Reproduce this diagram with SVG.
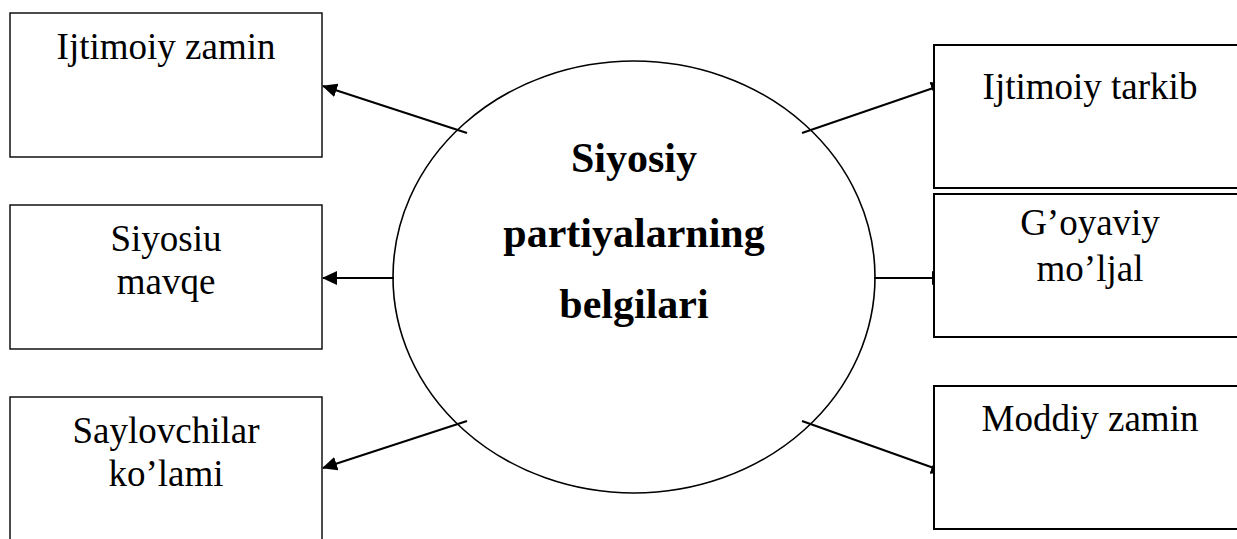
<svg xmlns="http://www.w3.org/2000/svg" width="1237" height="539" viewBox="0 0 1237 539">
<style>
  .box { fill: #ffffff; stroke: #000000; }
  .lb { stroke-width: 1.4; }
  .rb { stroke-width: 2; }
  .t { font-family: "Liberation Serif", "Times New Roman", serif; font-size: 37px; fill: #000000; text-anchor: middle; }
  .c { font-family: "Liberation Serif", "Times New Roman", serif; font-size: 42px; font-weight: bold; fill: #000000; text-anchor: middle; }
  .conn { stroke: #000000; stroke-width: 2; fill: none; marker-end: url(#arr); }
</style>
<defs>
  <marker id="arr" viewBox="0 0 15 14" markerWidth="15" markerHeight="14" refX="14" refY="7" orient="auto" markerUnits="userSpaceOnUse">
    <path d="M0,0 L15,7 L0,14 z" fill="#000000"/>
  </marker>
</defs>
<rect width="1237" height="539" fill="#ffffff"/>
<g id="center">
  <ellipse cx="634" cy="277" rx="241" ry="216" fill="#ffffff" stroke="#000000" stroke-width="1.6"/>
  <text class="c" x="634" y="172">Siyosiy</text>
  <text class="c" x="634" y="247">partiyalarning</text>
  <text class="c" x="634" y="318">belgilari</text>
</g>
<g id="connectors">
  <line class="conn" x1="467" y1="133" x2="323" y2="86"/>
  <line class="conn" x1="394" y1="278" x2="323" y2="278"/>
  <line class="conn" x1="467" y1="421" x2="323" y2="468"/>
  <line class="conn" x1="802" y1="133" x2="945" y2="84"/>
  <line class="conn" x1="874" y1="278" x2="946" y2="278"/>
  <line class="conn" x1="802" y1="421" x2="945" y2="472"/>
</g>
<g id="ijtimoiy-zamin">
  <rect class="box lb" x="10" y="13" width="312" height="144"/>
  <text class="t" x="166" y="59">Ijtimoiy zamin</text>
</g>
<g id="siyosiu-mavqe">
  <rect class="box lb" x="10" y="205" width="312" height="144"/>
  <text class="t" x="166" y="251">Siyosiu</text>
  <text class="t" x="166" y="294">mavqe</text>
</g>
<g id="saylovchilar-kolami">
  <rect class="box lb" x="10" y="397" width="312" height="160"/>
  <text class="t" x="166" y="443">Saylovchilar</text>
  <text class="t" x="166" y="486">ko’lami</text>
</g>
<g id="ijtimoiy-tarkib">
  <rect class="box rb" x="934" y="45" width="320" height="143"/>
  <text class="t" x="1090" y="99">Ijtimoiy tarkib</text>
</g>
<g id="goyaviy-moljal">
  <rect class="box rb" x="934" y="194" width="320" height="143"/>
  <text class="t" x="1090" y="235">G’oyaviy</text>
  <text class="t" x="1090" y="281">mo’ljal</text>
</g>
<g id="moddiy-zamin">
  <rect class="box rb" x="934" y="386" width="320" height="143"/>
  <text class="t" x="1090" y="431">Moddiy zamin</text>
</g>
</svg>
